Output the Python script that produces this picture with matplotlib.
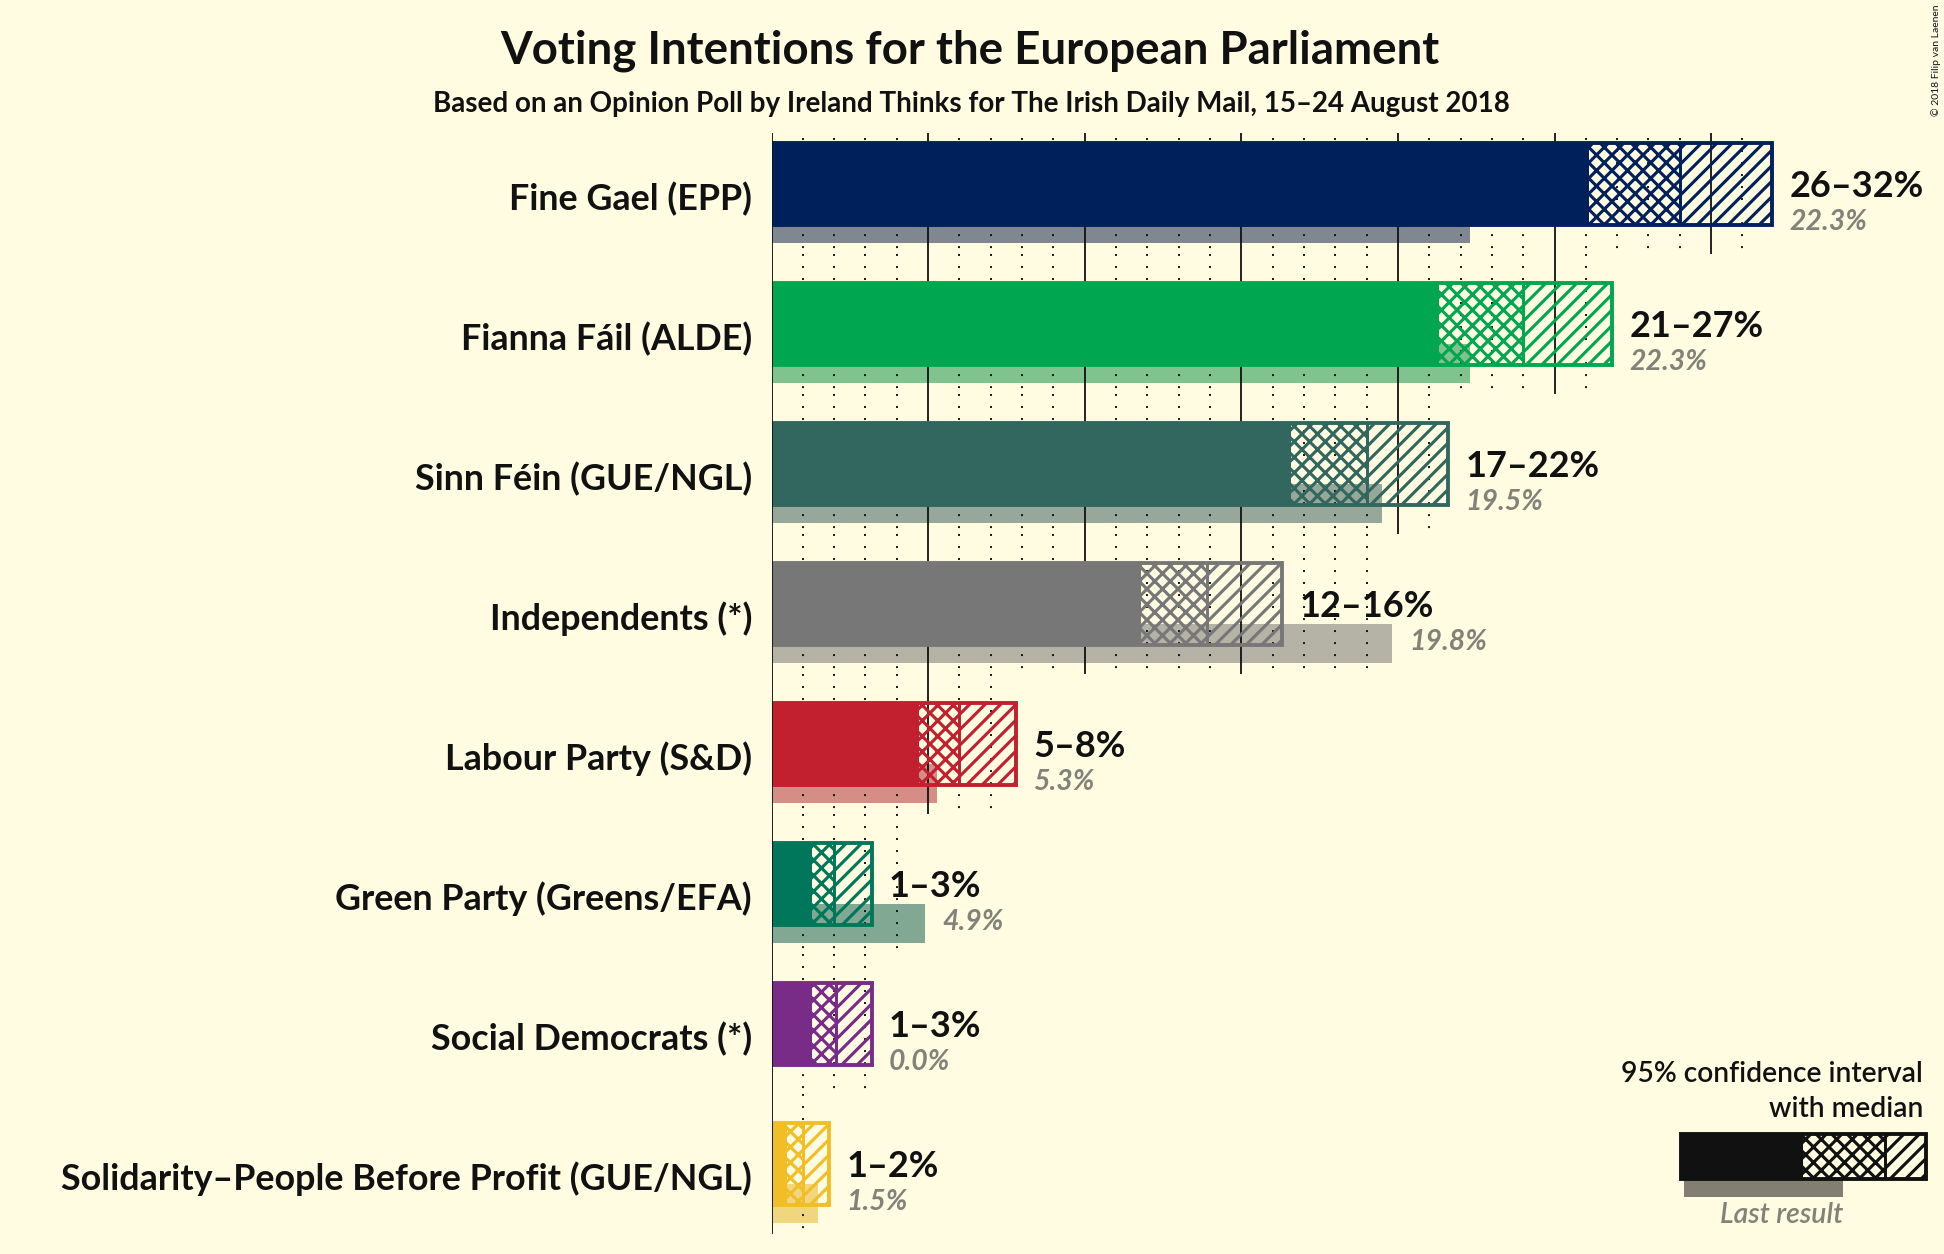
import numpy as np
import matplotlib
matplotlib.use("Agg")
import matplotlib.pyplot as plt

# poll: 95% confidence interval, median and last election result (percent)
parties = ["Fine Gael (EPP)", "Fianna Fáil (ALDE)", "Sinn Féin (GUE/NGL)",
           "Independents (*)", "Labour Party (S&D)", "Green Party (Greens/EFA)",
           "Social Democrats (*)", "Solidarity–People Before Profit (GUE/NGL)"]
ci_low = [26.1, 21.3, 16.6, 11.8, 4.7, 1.3, 1.3, 0.5]
median = [29.0, 24.0, 19.0, 13.9, 6.0, 2.0, 2.05, 1.0]
ci_high = [31.95, 26.85, 21.6, 16.3, 7.8, 3.2, 3.2, 1.85]
last_result = [22.3, 22.3, 19.5, 19.8, 5.3, 4.9, 0.0, 1.5]
range_labels = ["26–32%", "21–27%", "17–22%", "12–16%", "5–8%", "1–3%", "1–3%", "1–2%"]

bar_colors = ["#00205B", "#00A650", "#326760", "#777777",
              "#C21F2F", "#00765A", "#782B87", "#F2BE26"]
last_colors = ["#7F8890", "#80C38F", "#97A799", "#B5B3A6",
               "#D48E86", "#80A893", "#BC95C3", "#F1D680"]

BG = "#FFFCE2"
INK = "#111111"
GREY = "#828278"

plt.rcParams['font.family'] = ['Lato', 'DejaVu Sans']
plt.rcParams['hatch.linewidth'] = 2.4

W, H, DPI = 1944, 1254, 93
fig = plt.figure(figsize=(W / DPI, H / DPI), dpi=DPI, facecolor=BG)

# axes placed so that 0% sits right of the party names, one row = 140 px
X0, PX_PCT = 771.5, 31.32
Y_TOP, Y_BOT, ROW0, PITCH = 133, 1234, 184, 140
n = len(parties)
ax = fig.add_axes([X0 / W, 1 - Y_BOT / H, (W - X0) / W, (Y_BOT - Y_TOP) / H])
ax.set_xlim(0, (W - X0) / PX_PCT)
ax.set_ylim(n - 1 + (Y_BOT - ROW0 - (n - 1) * PITCH) / PITCH, -(ROW0 - Y_TOP) / PITCH)
ax.axis('off')

bh = 0.58
for i in range(n):
    col = bar_colors[i]
    # last result underneath
    if last_result[i] > 0:
        ax.barh(i + 0.283, last_result[i], height=0.281, color=last_colors[i], lw=0, zorder=1)
    # grid lines in this row
    kmax = int(np.floor(max(ci_high[i], last_result[i])))
    for k in range(1, kmax + 1):
        if k % 5 == 0:
            ax.vlines(k, i - 0.5, i + 0.5, color=INK, lw=1.4, zorder=2)
        else:
            ax.vlines(k, i - 0.5, i + 0.5, color=INK, lw=1.5,
                      linestyles=[(0, (1, 5.2))], zorder=2)
    # bar up to the lower bound, hatched interval
    ax.barh(i, ci_low[i], height=bh, color=col, lw=0, zorder=3)
    ax.barh(i, median[i] - ci_low[i], left=ci_low[i], height=bh, facecolor='none',
            edgecolor=col, hatch='xx', lw=0, zorder=4)
    ax.barh(i, ci_high[i] - median[i], left=median[i], height=bh, facecolor='none',
            edgecolor=col, hatch='//', lw=0, zorder=4)
    ax.barh(i, ci_high[i], height=bh, fill=False, edgecolor=col, lw=3, zorder=5)
    ax.vlines(median[i], i - bh / 2, i + bh / 2, color=col, lw=2.3, zorder=5)

    ax.text(-0.62, i + 0.186, parties[i], ha='right', va='baseline',
            fontsize=27.8, weight='bold', color=INK)
    ax.text(ci_high[i] + 0.55, i + 0.09, range_labels[i], ha='left', va='baseline',
            fontsize=28, weight='bold', color=INK)
    ax.text(max(ci_high[i], last_result[i]) + 0.55, i + 0.33, f"{last_result[i]:.1f}%",
            ha='left', va='baseline', fontsize=22, style='italic', weight='bold', color=GREY)

ax.axvline(0, color=INK, lw=1.4, zorder=6)

# title
fig.text(970 / W, 1 - 63 / H, "Voting Intentions for the European Parliament",
         ha='center', va='baseline', fontsize=35.3, weight='bold', color=INK)
fig.text(971 / W, 1 - 112 / H,
         "Based on an Opinion Poll by Ireland Thinks for The Irish Daily Mail, 15–24 August 2018",
         ha='center', va='baseline', fontsize=21.5, weight='bold', color=INK)
fig.text(1936 / W, 1 - 5 / H, "© 2018 Filip van Laenen", rotation=90,
         ha='center', va='top', fontsize=8, color=INK)

# legend
leg_low, leg_med, leg_high, leg_last = 0.498, 0.833, 1.0, 0.66
lax = fig.add_axes([1681 / W, 1 - 1197 / H, 245 / W, 63 / H])
lax.set_xlim(0, 1)
lax.set_ylim(1.4, 0)
lax.axis('off')
lax.barh(1.2, leg_last - 0.012, left=0.012, height=0.4, color="#827F72", lw=0, zorder=1)
lax.barh(0.5, leg_low, height=1.0, color=INK, lw=0, zorder=3)
lax.barh(0.5, leg_med - leg_low, left=leg_low, height=1.0, facecolor='none',
         edgecolor=INK, hatch='xx', lw=0, zorder=4)
lax.barh(0.5, leg_high - leg_med, left=leg_med, height=1.0, facecolor='none',
         edgecolor=INK, hatch='//', lw=0, zorder=4)
lax.barh(0.5, leg_high, height=1.0, fill=False, edgecolor=INK, lw=3, zorder=5, clip_on=False)
lax.vlines(leg_med, 0, 1, color=INK, lw=2.3, zorder=5)

fig.text(1923 / W, 1 - 1082 / H, "95% confidence interval", ha='right', va='baseline',
         fontsize=21.9, weight='semibold', color=INK)
fig.text(1923 / W, 1 - 1117 / H, "with median", ha='right', va='baseline',
         fontsize=21.9, weight='semibold', color=INK)
fig.text(1782 / W, 1 - 1223 / H, "Last result", ha='center', va='baseline',
         fontsize=22, style='italic', weight='semibold', color=GREY)

fig.savefig("out.png", dpi=DPI, facecolor=BG)
